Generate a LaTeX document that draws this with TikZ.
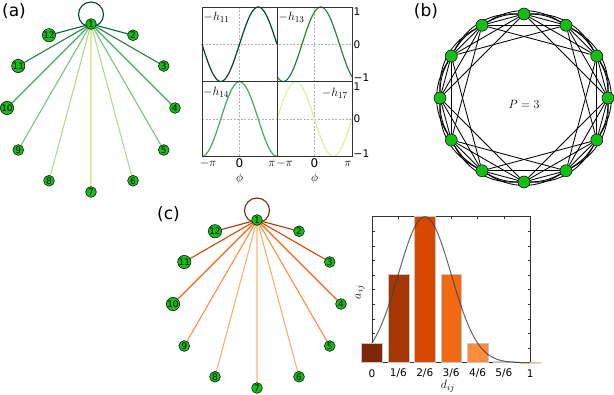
\documentclass[tikz,border=0pt]{standalone}
\usepackage{fontspec}
\setmainfont{DejaVu Sans}
\usepackage{amsmath,xcolor}
\definecolor{netgreen}{RGB}{20,190,20}
\definecolor{ylgn0}{HTML}{004529}
\definecolor{ylgn1}{HTML}{006837}
\definecolor{ylgn2}{HTML}{238443}
\definecolor{ylgn3}{HTML}{41AB5D}
\definecolor{ylgn4}{HTML}{78C679}
\definecolor{ylgn5}{HTML}{ADDD8E}
\definecolor{ylgn6}{HTML}{D9F0A3}
\definecolor{orng0}{HTML}{7F2704}
\definecolor{orng1}{HTML}{A63603}
\definecolor{orng2}{HTML}{D94801}
\definecolor{orng3}{HTML}{F16913}
\definecolor{orng4}{HTML}{FD8D3C}
\definecolor{orng5}{HTML}{FDAE6B}
\definecolor{orng6}{HTML}{FDD0A2}
\usepackage{tikz}
\usetikzlibrary{positioning,calc,backgrounds}
\tikzset{
  vnode/.style={draw=black, circle, fill=netgreen, line width=0.5pt, inner sep=0pt,
                minimum size=10.8pt, font=\fontsize{9}{9}\selectfont},
  rnode/.style={draw=black, circle, fill=netgreen, line width=0.5pt, inner sep=0pt,
                minimum size=12pt},
  spoke/.style={draw=#1, line width=1.1pt},
  selfloop/.style={draw=#1, line width=1.1pt},
  ringedge/.style={draw=black, line width=0.85pt},
  panellabel/.style={font=\fontsize{17}{17}\selectfont, inner sep=0pt},
  ticklabel/.style={font=\fontsize{10.5}{10.5}\selectfont, inner sep=0pt},
  mathlabel/.style={font=\fontsize{13}{13}\selectfont, inner sep=0pt},
  axisbox/.style={draw=black!80, line width=0.6pt},
  gridline/.style={draw=gray!60, line width=0.5pt, dash pattern=on 2pt off 1.5pt},
  phasecurve/.style={draw=#1, line width=1.2pt},
  histbar/.style={draw=gray!45, line width=0.4pt, fill=#1},
}

\begin{document}
\begin{tikzpicture}[x=1pt, y=-1pt]
\useasboundingbox (0,0) rectangle (614,395);

% --- Panel (a): couplings of node 1 ---
\node[panellabel] (la) at (14,11) {(a)};
\foreach \k in {1,...,12}
  \node[vnode] (a\k) at ({91+84*cos(120-30*\k)},{108-84*sin(120-30*\k)}) {\k};
\begin{scope}[on background layer]
  \draw[selfloop=ylgn0] ($(a1.center)+(0,-9.5)$) circle (12.5pt);
  \foreach \k/\c in {2/1,3/2,4/3,5/4,6/5,7/6,8/5,9/4,10/3,11/2,12/1}
    \draw[spoke=ylgn\c] (a1.center) -- (a\k.center);
\end{scope}

% --- Panel (a): interaction profiles ---
\draw[gridline] (239.5,7) -- (239.5,156.5);
\draw[gridline] (314.5,7) -- (314.5,156.5);
\draw[gridline] (202,44.25) -- (352,44.25);
\draw[gridline] (202,119) -- (352,119);
\draw[phasecurve=ylgn0] plot[domain=-pi:pi, samples=60, variable=\t]
  ({239.5+37.5*\t/pi},{44.25-37.25*sin(\t r)});
\draw[phasecurve=ylgn2] plot[domain=-pi:pi, samples=60, variable=\t]
  ({314.5+37.5*\t/pi},{44.25-37.25*sin(\t r+60)});
\draw[phasecurve=ylgn3] plot[domain=-pi:pi, samples=60, variable=\t]
  ({239.5+37.5*\t/pi},{119-37.25*cos(\t r)});
\draw[phasecurve=ylgn6] plot[domain=-pi:pi, samples=60, variable=\t]
  ({314.5+37.5*\t/pi},{119+37.25*sin(\t r)});
\draw[axisbox] (202,7) rectangle (352,156.5);
\draw[axisbox] (277,7) -- (277,156.5);
\draw[axisbox] (202,81.5) -- (352,81.5);

\node[mathlabel, anchor=west] (h11) at (203.5,17) {$-h_{11}$};
\node[mathlabel, anchor=west] (h13) at (278.5,17) {$-h_{13}$};
\node[mathlabel, anchor=west] (h14) at (203,92.5) {$-h_{14}$};
\node[mathlabel, anchor=east] (h17) at (348,93) {$-h_{17}$};
\foreach \y/\t [count=\i] in {12/1, 44.25/0, 77.5/−1, 87/1, 119/0, 153.5/−1}
  \node[ticklabel, anchor=west] (ry\i) at (353.5,\y) {\t};
\foreach \x/\t [count=\i] in {208/$-\pi$, 239.5/0, 272/$\pi$, 284.5/$-\pi$, 314.5/0, 348/$\pi$}
  \node[ticklabel, font=\fontsize{12}{12}\selectfont] (bx\i) at (\x,163.5) {\t};
\node[mathlabel] (phiL) at (239.5,178.5) {$\phi$};
\node[mathlabel] (phiR) at (314.5,178.5) {$\phi$};

% --- Panel (b): ring with P = 3 ---
\node[panellabel] (lb) at (426,11) {(b)};
\foreach \k in {0,...,11}
  \node[rnode] (b\k) at ({524+84*cos(90-30*\k)},{98-84*sin(90-30*\k)}) {};
\node[mathlabel] (pval) at (524,104) {$P=3$};
\begin{scope}[on background layer]
  \foreach \k in {0,...,11}{
    \pgfmathtruncatemacro{\ka}{mod(\k+1,12)}
    \pgfmathtruncatemacro{\kb}{mod(\k+2,12)}
    \pgfmathtruncatemacro{\kc}{mod(\k+3,12)}
    \draw[ringedge] (b\k) -- (b\ka);
    \draw[ringedge] (b\k) to[bend left=14] (b\ka);
    \draw[ringedge] (b\k) -- (b\kb);
    \draw[ringedge] (b\k) to[bend left=32] (b\kb);
    \draw[ringedge] (b\k) -- (b\kc);
  }
\end{scope}

% --- Panel (c): distance couplings of node 1 ---
\node[panellabel] (lc) at (168.5,214.5) {(c)};
\foreach \k in {1,...,12}
  \node[vnode] (c\k) at ({257+84*cos(120-30*\k)},{304-84*sin(120-30*\k)}) {\k};
\begin{scope}[on background layer]
  \draw[selfloop=orng0] ($(c1.center)+(0,-9.5)$) circle (12.5pt);
  \foreach \k/\c in {2/1,3/2,4/3,5/4,6/5,7/6,8/5,9/4,10/3,11/2,12/1}
    \draw[spoke=orng\c] (c1.center) -- (c\k.center);
\end{scope}

% --- Panel (c): weights against distance ---
\draw[axisbox] (372,216.7) rectangle (530.3,362.7);
\foreach \t in {1,...,9}{
  \draw[axisbox] (372,{362.7-14.6*\t}) -- ++(2.5,0);
  \draw[axisbox] (530.3,{362.7-14.6*\t}) -- ++(-2.5,0);
}
\foreach \k in {1,...,5}
  \draw[axisbox] ({372+26.38*\k},216.7) -- ++(0,2.5);
\foreach \k in {0,...,6}
  \draw[histbar=orng\k] ({372+26.38*\k-10.35},362.7) rectangle
    ({372+26.38*\k+10.35},{362.7-146*exp(-0.5*(\k-2)*(\k-2))});
\draw[draw=black!75, opacity=0.8, line width=1pt] plot[domain=0:1, samples=90]
  ({372+158.3*\x},{362.7-146*exp(-18*(\x-1/3)*(\x-1/3))});
\foreach \t [count=\i from 0] in {0,1/6,2/6,3/6,4/6,5/6,1}
  \node[ticklabel] (dx\i) at ({372+26.38*\i},373.5) {\t};
\node[mathlabel] (dlab) at (448,386) {$d_{ij}$};
\node[mathlabel, rotate=90] (alab) at (360,292) {$a_{ij}$};

\end{tikzpicture}
\end{document}
